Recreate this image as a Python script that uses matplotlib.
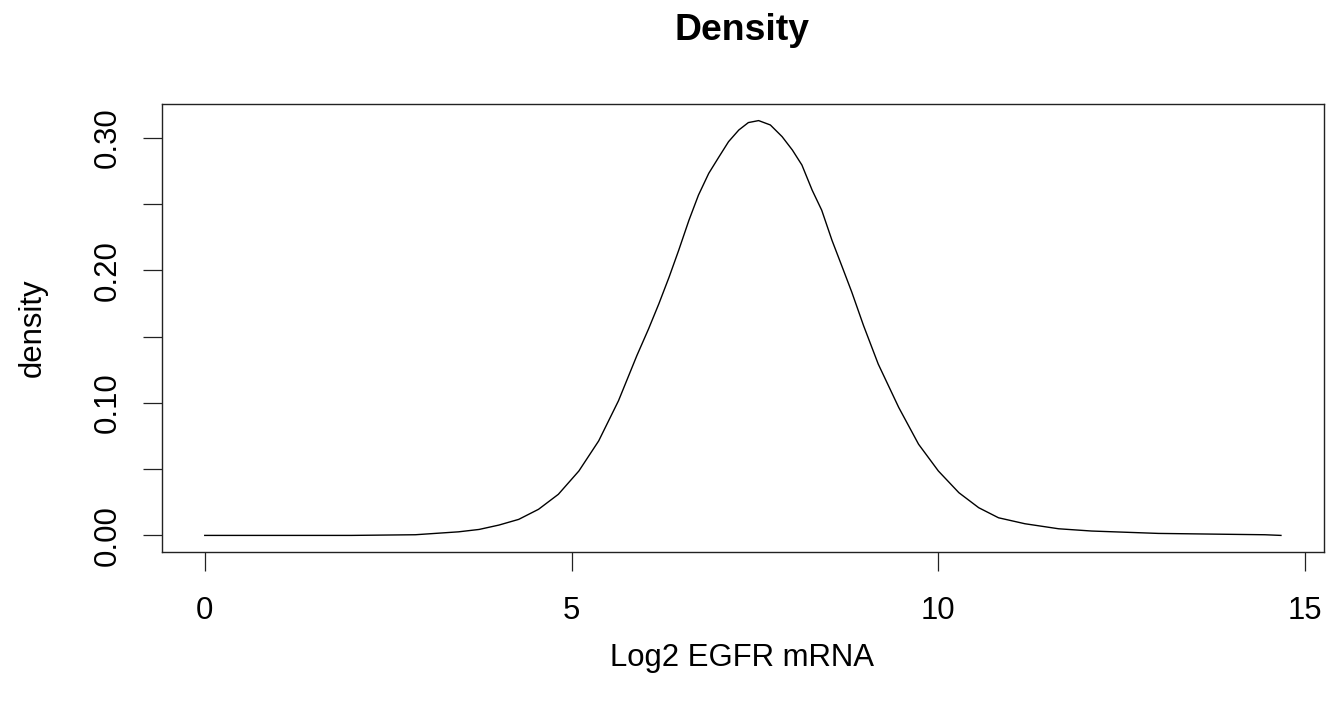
import matplotlib
matplotlib.use("Agg")
import matplotlib.pyplot as plt

# Density curve (x = Log2 EGFR mRNA, y = density)
x_vals = [0.0, 1.0, 2.0, 2.87, 3.46, 3.74, 4.01, 4.28, 4.55, 4.82, 5.10,
          5.37, 5.64, 5.89, 6.05, 6.19, 6.33, 6.46, 6.60, 6.73, 6.87, 7.01,
          7.14, 7.28, 7.41, 7.55, 7.71, 7.87, 8.01, 8.14, 8.28, 8.41, 8.55,
          8.69, 8.82, 8.98, 9.18, 9.46, 9.73, 10.00, 10.28, 10.55, 10.82,
          11.18, 11.64, 12.09, 13.0, 14.0, 14.45, 14.67]
y_vals = [0.0, 0.0, 0.0, 0.0005, 0.0027, 0.0045, 0.0078, 0.0121, 0.0197,
          0.0310, 0.0486, 0.0713, 0.1016, 0.1356, 0.1558, 0.1747, 0.1949,
          0.2150, 0.2377, 0.2567, 0.2731, 0.2856, 0.2970, 0.3058, 0.3114,
          0.3129, 0.3096, 0.3008, 0.2907, 0.2794, 0.2604, 0.2453, 0.2226,
          0.2024, 0.1835, 0.1583, 0.1293, 0.0965, 0.0688, 0.0486, 0.0322,
          0.0209, 0.0133, 0.0088, 0.0050, 0.0033, 0.0015, 0.0008, 0.0005, 0.0]

x_ticks = [0, 5, 10, 15]
y_ticks = [0.00, 0.05, 0.10, 0.15, 0.20, 0.25, 0.30]
y_tick_labels = ["0.00", "", "0.10", "", "0.20", "", "0.30"]

title = "Density"
x_label = "Log2 EGFR mRNA"
y_label = "density"

plt.rcParams['font.family'] = ['Liberation Sans', 'DejaVu Sans']
fs = 22.4

fig = plt.figure(figsize=(13.31, 7.11), dpi=100)
ax = fig.add_axes([161.7 / 1331, 1 - 552 / 711, (1324 - 161.7) / 1331, (552 - 104) / 711])

ax.plot(x_vals, y_vals, color="black", lw=1.0, solid_joinstyle="round")

xr = max(x_vals) - min(x_vals)
ax.set_xlim(min(x_vals) - 0.04 * xr, max(x_vals) + 0.04 * xr)
yr = max(y_vals) - min(y_vals)
ax.set_ylim(min(y_vals) - 0.04 * yr, max(y_vals) + 0.04 * yr)

ax.set_xticks(x_ticks)
ax.set_xticklabels([str(t) for t in x_ticks], fontsize=fs)
ax.set_yticks(y_ticks)
ax.set_yticklabels(y_tick_labels, fontsize=fs, rotation=90, va="center")

ax.tick_params(axis="both", direction="out", length=13.7, width=0.9, color="#222222")
ax.tick_params(axis="x", pad=18)
ax.tick_params(axis="y", pad=14)

for sp in ax.spines.values():
    sp.set_linewidth(1.0)
    sp.set_color("#222222")

fig.text(742 / 1331, 1 - 30 / 711, title, fontsize=fs * 1.2, fontweight="bold",
         ha="center", va="center")
fig.text(742 / 1331, 1 - 658 / 711, x_label, fontsize=fs, ha="center", va="center")
fig.text(33 / 1331, 1 - 328 / 711, y_label, fontsize=fs, ha="center", va="center",
         rotation=90)

fig.savefig("out.png", dpi=100, facecolor="white")
